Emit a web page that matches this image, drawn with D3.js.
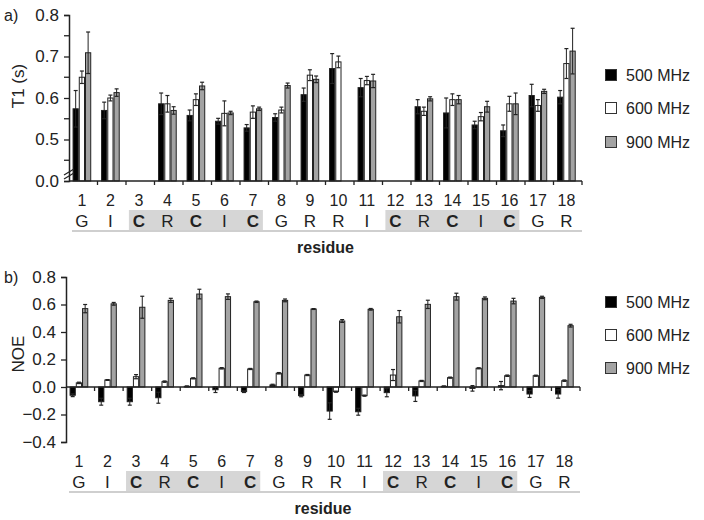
<!DOCTYPE html>
<html><head><meta charset="utf-8">
<script src="https://cdn.jsdelivr.net/npm/d3@7"></script>
<style>
body{margin:0;background:#fff;}
svg{display:block;font-family:"Liberation Sans",Arial,sans-serif;}
</style></head>
<body><svg id="c" width="704" height="520"></svg>
<script>
const residues = d3.range(1, 19);
const letters = ["G","I","C","R","C","I","C","G","R","R","I","C","R","C","I","C","G","R"];
const shaded = [[3,7],[12,16]];
const series = ["500 MHz","600 MHz","900 MHz"];
const colors = ["#000000","#ffffff","#a3a3a3"];

// T1 (s) values & errors (null = missing)
const t1_500 = [0.574,0.570,null,0.586,0.558,0.544,0.528,0.553,0.608,0.671,0.625,null,0.579,0.564,0.535,0.521,0.606,0.602];
const t1_500e = [0.044,0.020,null,0.026,0.013,0.007,0.008,0.009,0.016,0.036,0.022,null,0.017,0.036,0.009,0.014,0.027,0.016];
const t1_600 = [0.650,0.600,null,0.586,0.596,0.563,0.566,0.571,0.655,0.687,0.642,null,0.568,0.596,0.555,0.586,0.582,0.683];
const t1_600e = [0.015,0.007,null,0.020,0.014,0.030,0.015,0.007,0.013,0.014,0.010,null,0.010,0.014,0.010,0.018,0.014,0.036];
const t1_900 = [0.709,0.613,null,0.570,0.629,0.564,0.574,0.630,0.645,null,0.641,null,0.598,0.596,0.579,0.586,0.616,0.713];
const t1_900e = [0.050,0.009,null,0.009,0.009,0.004,0.004,0.006,0.008,null,0.016,null,0.005,0.010,0.013,0.026,0.005,0.055];

// NOE values & errors
const noe_500 = [-0.060,-0.107,-0.107,-0.078,0.005,-0.020,-0.034,0.015,-0.063,-0.175,-0.180,-0.041,-0.065,0.005,-0.010,0.010,-0.051,-0.051];
const noe_500e = [0.010,0.025,0.025,0.040,0.003,0.020,0.006,0.005,0.008,0.060,0.025,0.030,0.040,0.003,0.020,0.030,0.025,0.030];
const noe_600 = [0.030,0.051,0.075,0.039,0.063,0.136,0.131,0.100,0.087,-0.034,-0.063,0.087,0.044,0.068,0.136,0.082,0.082,0.046];
const noe_600e = [0.005,0.003,0.015,0.005,0.004,0.005,0.004,0.005,0.004,0.004,0.004,0.040,0.004,0.004,0.004,0.005,0.004,0.005];
const noe_900 = [0.570,0.605,0.580,0.630,0.676,0.657,0.620,0.630,0.567,0.480,0.565,0.511,0.601,0.657,0.645,0.625,0.652,0.446];
const noe_900e = [0.030,0.010,0.080,0.015,0.035,0.020,0.005,0.010,0.003,0.010,0.006,0.045,0.030,0.025,0.010,0.020,0.008,0.010];

const t1Ticks = [0.4,0.5,0.6,0.7,0.8];
const t1TickLabels = ["0.0","0.5","0.6","0.7","0.8"];
const t1Minor = [0.45,0.55,0.65,0.75];
const noeTicks = [-0.4,-0.2,0.0,0.2,0.4,0.6,0.8];

const svg = d3.select("#c");
const FONT = 17;

function panel(cfg){
  const g = svg.append("g");
  const x = d3.scaleBand().domain(residues).range([cfg.x0, cfg.x1]).paddingInner(0).paddingOuter(0);
  const bw = x.bandwidth();
  const xs = d3.scaleBand().domain(series).range([bw*0.125, bw*0.78]).padding(0);
  const y = d3.scaleLinear().domain(cfg.domain).range([cfg.yBottom, cfg.yTop]);
  const base = y(cfg.base);

  // bars
  series.forEach((s, si) => {
    const vals = cfg.values[si], errs = cfg.errors[si];
    residues.forEach((r, i) => {
      const v = vals[i];
      if (v === null) return;
      const bx = x(r) + xs(s);
      const w = xs.bandwidth();
      const yv = y(v);
      g.append("rect")
        .attr("x", bx + 0.5).attr("width", w - 1)
        .attr("y", Math.min(yv, base)).attr("height", Math.max(0.5, Math.abs(base - yv)))
        .attr("fill", colors[si]).attr("stroke", "#222").attr("stroke-width", 1);
      const e = errs[i];
      const cx = bx + w/2;
      const yHi = y(v + e), yLo = y(v - e);
      g.append("line").attr("x1", cx).attr("x2", cx).attr("y1", yHi).attr("y2", yLo)
        .attr("stroke", "#222").attr("stroke-width", 1);
      [yHi, yLo].forEach(yy => g.append("line").attr("x1", cx-2).attr("x2", cx+2)
        .attr("y1", yy).attr("y2", yy).attr("stroke", "#222").attr("stroke-width", 1.2));
    });
  });

  // y axis
  const yAxis = d3.axisLeft(y).tickValues(cfg.ticks).tickSize(5).tickPadding(5)
    .tickFormat(cfg.tickFormat);
  const ya = g.append("g").attr("transform", `translate(${cfg.x0},0)`).call(yAxis);
  ya.select(".domain").attr("stroke", "#222").attr("stroke-width", 1.5);
  ya.selectAll(".tick line").attr("stroke", "#222").attr("stroke-width", 1.3);
  ya.selectAll("text").attr("font-size", FONT).attr("fill", "#222").attr("font-family", "Liberation Sans, Arial, sans-serif");
  if (cfg.minor) {
    cfg.minor.forEach(m => g.append("line").attr("x1", cfg.x0-5).attr("x2", cfg.x0)
      .attr("y1", y(m)).attr("y2", y(m)).attr("stroke", "#222").attr("stroke-width", 1.3));
  }

  // x axis
  const xAxisY = y(cfg.base);
  g.append("line").attr("x1", cfg.x0).attr("x2", cfg.x1).attr("y1", xAxisY).attr("y2", xAxisY)
    .attr("stroke", "#222").attr("stroke-width", 1.5);
  residues.forEach(r => {
    g.append("line").attr("x1", x(r) + bw).attr("x2", x(r) + bw)
      .attr("y1", xAxisY).attr("y2", xAxisY + 4).attr("stroke", "#222").attr("stroke-width", 1.3);
  });

  // axis break
  if (cfg.brk) {
    const by = cfg.yBottom - 9;
    [0, 4].forEach(off => {
      g.append("line").attr("x1", cfg.x0 - 5).attr("x2", cfg.x0 + 5)
        .attr("y1", by + off + 3).attr("y2", by + off - 3)
        .attr("stroke", "#222").attr("stroke-width", 1.3);
    });
  }

  // residue labels
  const cx = r => x(r) + xs(series[0]) + (xs.range()[1] - xs.range()[0]) / 2;
  shaded.forEach(([a, b]) => {
    g.append("rect").attr("x", cx(a) - 10).attr("width", cx(b) - cx(a) + 20)
      .attr("y", cfg.labY + 10).attr("height", 21).attr("fill", "#d6d6d6");
  });
  g.append("line").attr("x1", cfg.x0 + 3).attr("x2", cfg.x1).attr("y1", cfg.labY + 31).attr("y2", cfg.labY + 31)
    .attr("stroke", "#cfcfcf").attr("stroke-width", 2);
  residues.forEach((r, i) => {
    g.append("text").attr("x", cx(r)).attr("y", cfg.labY).attr("dy", "0.35em")
      .attr("text-anchor", "middle").attr("font-size", 16).attr("fill", "#222").text(r);
    g.append("text").attr("x", cx(r)).attr("y", cfg.labY + 21).attr("dy", "0.35em")
      .attr("text-anchor", "middle").attr("font-size", 17).attr("fill", "#222")
      .attr("font-weight", letters[i] === "C" ? "bold" : "normal").text(letters[i]);
  });
  g.append("text").attr("x", (cfg.x0 + cfg.x1) / 2).attr("y", cfg.labY + 47).attr("dy", "0.35em")
    .attr("text-anchor", "middle").attr("font-size", 16).attr("font-weight", "bold").attr("fill", "#222").text("residue");

  // axis title
  g.append("text").attr("transform", `translate(18,${cfg.titleY}) rotate(-90)`).attr("dy", "0.35em")
    .attr("text-anchor", "middle").attr("font-size", 17).attr("fill", "#222").text(cfg.title);
  // panel letter
  g.append("text").attr("x", 4).attr("y", cfg.yTop).attr("dy", "0.35em")
    .attr("font-size", 16).attr("fill", "#222").text(cfg.letter);

  // legend
  series.forEach((s, si) => {
    const ly = cfg.legY[si];
    g.append("rect").attr("x", 605.5).attr("y", ly - 5.5).attr("width", 11).attr("height", 11)
      .attr("fill", colors[si]).attr("stroke", "#333").attr("stroke-width", 1);
    g.append("text").attr("x", 626).attr("y", ly).attr("dy", "0.35em")
      .attr("font-size", 16).attr("fill", "#222").text(s);
  });
}

panel({
  x0: 69, x1: 582, yTop: 15, yBottom: 181, domain: [0.4, 0.8], base: 0.4,
  values: [t1_500, t1_600, t1_900], errors: [t1_500e, t1_600e, t1_900e],
  ticks: t1Ticks, tickFormat: d => t1TickLabels[t1Ticks.indexOf(d)], minor: t1Minor, brk: true,
  labY: 200, title: "T1 (s)", titleY: 86, letter: "a)", legY: [75, 108, 142]
});
panel({
  x0: 66, x1: 580, yTop: 277, yBottom: 442, domain: [-0.4, 0.8], base: 0,
  values: [noe_500, noe_600, noe_900], errors: [noe_500e, noe_600e, noe_900e],
  ticks: noeTicks, tickFormat: d3.format(".1f"), minor: null, brk: false,
  labY: 461, title: "NOE", titleY: 354, letter: "b)", legY: [302, 335, 368]
});
</script>
</body></html>
